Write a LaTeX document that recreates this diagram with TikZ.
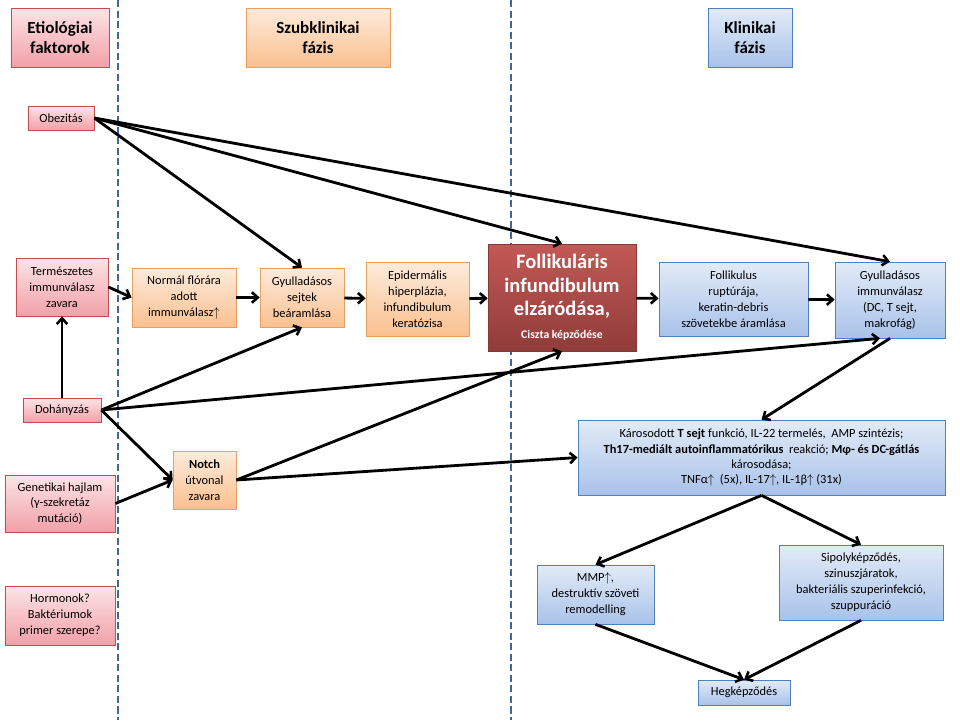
\documentclass[tikz,border=0pt]{standalone}
\usepackage{fontspec}
\setmainfont{Carlito}
\usetikzlibrary{arrows.meta,shadows}
\definecolor{rb}{HTML}{C0504D}\definecolor{rt}{HTML}{FCE4E6}\definecolor{rbo}{HTML}{F2A0A8}
\definecolor{ob}{HTML}{E8A060}\definecolor{ot}{HTML}{FDEBDC}\definecolor{obo}{HTML}{FAC08F}
\definecolor{bb}{HTML}{4F81BD}\definecolor{bt}{HTML}{E2EBF7}\definecolor{bbo}{HTML}{A9C2EA}
\newcommand{\bigf}{\fontsize{17.5}{20}\selectfont\bfseries}
\begin{document}
\begin{tikzpicture}[x=0.03cm,y=-0.03cm,
 box/.style={draw,line width=0.6pt,align=center,inner sep=1pt,font=\fontsize{10.6}{13.6}\selectfont,drop shadow={shadow xshift=1.2pt,shadow yshift=-1.2pt,opacity=0.35}},
 red/.style={box,draw=rb,top color=rt,bottom color=rbo},
 org/.style={box,draw=ob,top color=ot,bottom color=obo},
 blu/.style={box,draw=bb,top color=bt,bottom color=bbo},
 head/.style={font=\fontsize{14.5}{17}\selectfont\bfseries},
 sz/.style 2 args={minimum width=#1cm,minimum height=#2cm},
 ar/.style={line width=2.4pt,-{Straight Barb[length=5pt,width=9pt,line width=2.2pt]}},
 dl/.style={draw=bb!80!black,line width=0.9pt,dash pattern=on 6pt off 3pt}]
\useasboundingbox (0,0) rectangle (960,720);
\fill[white] (0,0) rectangle (960,720);
\draw[dl] (118,0) -- (118,720);
\draw[dl] (511,0) -- (511,720);
\node[red,head,sz={2.94}{1.77}] (etio) at (60,37.5) {Etiológiai\\faktorok};
\node[org,head,sz={4.32}{1.77}] (szub) at (318,37.5) {Szubklinikai\\fázis};
\node[blu,head,sz={2.52}{1.77}] (klin) at (750,37.5) {Klinikai\\fázis};
\node[red,sz={1.98}{0.72}] (obez) at (61,118) {Obezitás};
\node[red,sz={2.76}{1.74}] (term) at (62,287) {Természetes\\immunválasz\\zavara};
\node[red,sz={2.34}{0.72}] (doh) at (62,410) {Dohányzás};
\node[red,sz={3.3}{1.71}] (gen) at (60,503.5) {Genetikai hajlam\\(γ-szekretáz\\mutáció)};
\node[red,sz={3.3}{1.77}] (horm) at (60,615.5) {Hormonok?\\Baktériumok\\primer szerepe?};
\node[org,sz={3.12}{1.77}] (norm) at (184,297.5) {Normál flórára\\adott\\immunválasz$\uparrow$};
\node[org,sz={2.52}{1.77}] (gys) at (302,297.5) {Gyulladásos\\sejtek\\beáramlása};
\node[org,sz={3.09}{2.22}] (epid) at (417.5,299) {Epidermális\\hiperplázia,\\infundibulum\\keratózisa};
\node[box,draw=rb!70!black,top color=rb!95!white,bottom color=rb!75!black,text=white,sz={4.44}{3.21},font=\fontsize{10}{20}\selectfont\bfseries] (foll) at (562,297.5) {\bigf Follikuláris\\\bigf infundibulum\\\bigf elzáródása,\\Ciszta képződése};
\node[org,sz={1.89}{1.74}] (notch) at (204.5,480) {\textbf{Notch}\\útvonal\\zavara};
\node[blu,sz={4.47}{2.22}] (rupt) at (733.5,299) {Follikulus\\ruptúrája,\\keratin-debris\\szövetekbe áramlása};
\node[blu,sz={3.3}{2.28}] (gyi) at (890,300) {Gyulladásos\\immunválasz\\(DC, T sejt,\\makrofág)};
\node[blu,sz={11.01}{2.25},font=\fontsize{10.6}{13}\selectfont] (kar) at (761.5,457.5) {Károsodott \textbf{T sejt} funkció, IL-22 termelés,\ \ AMP szintézis;\\\textbf{Th17-mediált autoinflammatórikus}\ \ reakció; \textbf{Mφ- és DC-gátlás}\\károsodása;\\TNFα$\uparrow$\ \ (5x), IL-17$\uparrow$, IL-1β$\uparrow$ (31x)};
\node[blu,sz={3.51}{1.77}] (mmp) at (595.5,594.5) {MMP$\uparrow$,\\destruktív szöveti\\remodelling};
\node[blu,sz={4.92}{2.25}] (sip) at (861,582.5) {Sipolyképződés,\\szinuszjáratok,\\bakteriális szuperinfekció,\\szuppuráció};
\node[blu,sz={2.76}{0.75}] (heg) at (744,692.5) {Hegképződés};
\draw[ar] (obez.east) -- (gys.north);
\draw[ar] (obez.east) -- (foll.north);
\draw[ar] (obez.east) -- (gyi.north);
\draw[ar] (term.east) -- (norm.west);
\draw[ar] (norm) -- (gys);
\draw[ar] (gys) -- (epid);
\draw[ar] (epid) -- (foll);
\draw[ar] (foll) -- (rupt);
\draw[ar] (rupt) -- (gyi);
\draw[ar] (doh) -- (term);
\draw[ar] (doh.east) -- (gys.south);
\draw[ar] (doh.east) -- ([xshift=-0.3cm]gyi.south);
\draw[ar] (doh.east) -- (notch.west);
\draw[ar] (gen.east) -- (notch.west);
\draw[ar] (notch.east) -- (foll.south);
\draw[ar] (notch.east) -- (kar.west);
\draw[ar] (gyi.south) -- (kar.north);
\draw[ar] (kar.south) -- (mmp.north);
\draw[ar] (kar.south) -- (sip.north);
\draw[ar] (mmp.south) -- (heg.north);
\draw[ar] (sip.south) -- (heg.north);
\end{tikzpicture}
\end{document}
